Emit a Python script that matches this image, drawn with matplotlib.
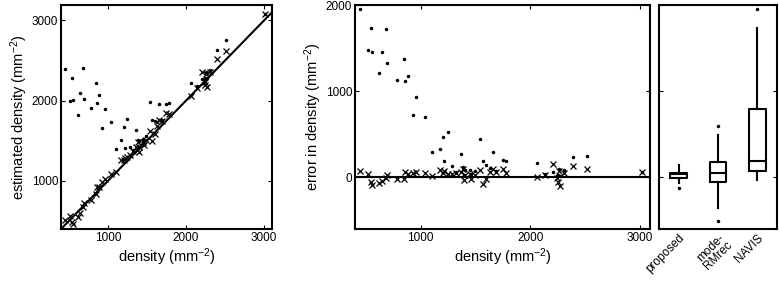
import numpy as np
import matplotlib
matplotlib.use('Agg')
import matplotlib.pyplot as plt

plt.rcParams['font.family'] = ['Liberation Sans', 'DejaVu Sans']
plt.rcParams['mathtext.fontset'] = 'custom'
plt.rcParams['mathtext.rm'] = 'Liberation Sans'
plt.rcParams['mathtext.it'] = 'Liberation Sans:italic'
plt.rcParams['font.size'] = 8.5
plt.rcParams['axes.labelsize'] = 10.5

# true density (mm^-2) of each image
density = [445, 521, 545, 552, 621, 642, 679, 694, 779, 848, 855, 885, 930, 960,
           1036, 1103, 1173, 1203, 1215, 1248, 1285, 1324, 1364, 1385, 1400, 1394,
           1445, 1461, 1491, 1536, 1567, 1597, 1627, 1657, 1688, 1748, 1779, 2057,
           2136, 2203, 2239, 2257, 2248, 2272, 2303, 2391, 2512, 3015]
# error of proposed estimate
err_proposed = [73, 43, -54, -93, -70, -42, -5, 29, -15, -15, 62, 43, 54, 58,
                50, 11, 89, 54, 70, 43, 35, 50, 62, 101, 27, -35,
                43, -15, 23, 81, -74, -15, 62, 101, 62, 101, 50, 4,
                23, 151, -4, 74, -54, -105, 54, 132, 101, 62]
# error of NAVIS estimate
err_navis = [1950, 1477, 1733, 1453, 1205, 1457, 1725, 1322, 1128, 1376, 1120, 1178, 729, 934,
             698, 291, 333, 465, 190, 527, 136, 60, 267, 120, 90, 30,
             80, 40, 70, 446, 190, 143, 110, 295, 75, 205, 190, 163,
             43, 60, 20, 100, 30, 10, 80, 236, 244, 62]

# box plot summaries of error
methods = ['proposed', 'mode-\nRMrec', 'NAVIS']
box_med = [35, 55, 190]
box_q1 = [-8, -54, 70]
box_q3 = [55, 178, 791]
box_wlo = [-66, -353, -35]
box_whi = [147, 496, 1729]
box_fliers = [[-120], [601, -504], [1950]]

density = np.array(density)
est_proposed = density + np.array(err_proposed)
est_navis = density + np.array(err_navis)

fig = plt.figure(figsize=(7.79, 2.83), dpi=100)
ax1 = fig.add_axes([0.0783, 0.1908, 0.2709, 0.7915])
ax2 = fig.add_axes([0.4557, 0.1908, 0.3787, 0.7915])
ax3 = fig.add_axes([0.8460, 0.1908, 0.1515, 0.7915])

def style(ax):
    ax.tick_params(direction='in', top=True, right=True, length=3, width=0.8, pad=2)
    for s in ax.spines.values():
        s.set_linewidth(1.5)

# left: estimated vs true
ax1.plot([0, 4000], [0, 4000], 'k-', lw=1.5)
ax1.plot(density, est_navis, 'k.', ms=3)
ax1.plot(density, est_proposed, 'kx', ms=5, mew=0.9)
ax1.set_xlim(400, 3100)
ax1.set_ylim(400, 3190)
ax1.set_xticks([1000, 2000, 3000])
ax1.set_yticks([1000, 2000, 3000])
ax1.set_xlabel('density (mm$^{-2}$)', labelpad=2)
ax1.set_ylabel('estimated density (mm$^{-2}$)', labelpad=1)
style(ax1)

# middle: error vs true
ax2.axhline(0, color='k', lw=1.5)
ax2.plot(density, err_navis, 'k.', ms=3)
ax2.plot(density, err_proposed, 'kx', ms=5, mew=0.9)
ax2.set_xlim(400, 3090)
ax2.set_ylim(-600, 2000)
ax2.set_xticks([1000, 2000, 3000])
ax2.set_yticks([0, 1000, 2000])
ax2.set_xlabel('density (mm$^{-2}$)', labelpad=2)
ax2.set_ylabel('error in density (mm$^{-2}$)', labelpad=1)
style(ax2)

# right: box plots
stats = []
for i in range(3):
    stats.append(dict(med=box_med[i], q1=box_q1[i], q3=box_q3[i],
                      whislo=box_wlo[i], whishi=box_whi[i], fliers=box_fliers[i]))
line = dict(color='k', lw=1.5)
ax3.bxp(stats, positions=[1, 2, 3], widths=0.42, showcaps=False,
        boxprops=line, whiskerprops=line, medianprops=line,
        flierprops=dict(marker='.', color='k', mfc='k', mec='k', ms=3))
ax3.set_xlim(0.5, 3.5)
ax3.set_ylim(-600, 2000)
ax3.set_yticks([0, 1000, 2000])
ax3.set_yticklabels([])
ax3.set_xticks([1, 2, 3])
ax3.set_xticklabels(methods, rotation=45, ha='right', va='top', rotation_mode='anchor',
                    linespacing=0.9)
style(ax3)
ax3.tick_params(axis='x', length=0)

fig.savefig('out.png', dpi=100)
